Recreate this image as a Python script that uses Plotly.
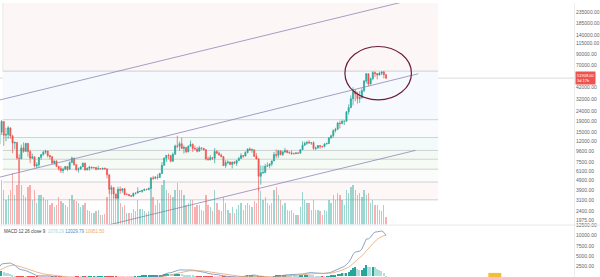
import math
import pandas as pd
import plotly.graph_objects as go

# ---------------- data (weekly BTC) ----------------
week_start = "2017-12-04"
warmup_closes = [998, 911, 821, 921, 920, 1024, 997, 1050, 1180, 1270, 1230, 970, 970,
                 1140, 1190, 1180, 1250, 1350, 1590, 1770, 2050, 2200, 2520, 2950, 2520,
                 2590, 2500, 2510, 1930, 2760, 2870, 3230, 4060, 4090, 4380, 4600, 4120,
                 3700, 3670, 4390, 4780, 5700, 6010, 6140, 7400, 5950, 8040, 9700, 11300]

closes = [15000, 19100, 13900, 14150, 16500, 13700, 11600, 11800, 8250, 8100, 10400, 9600,
          11500, 9550, 8200, 8450, 6850, 7050, 8350, 8900, 9400, 9650, 8700, 8500, 7350,
          7700, 6780, 6450, 6150, 6350, 6760, 6350, 7400, 8200, 7050, 6300, 6400, 6700,
          7300, 6250, 6500, 6700, 6600, 6600, 6350, 6450, 6400, 6500, 6400, 5600, 4000,
          4150, 3600, 3250, 4000, 3900, 4050, 3550, 3550, 3450, 3420, 3650, 3670, 3800,
          3800, 3900, 4000, 3980, 4100, 5200, 5150, 5300, 5250, 5750, 6950, 8200, 8750,
          8700, 7650, 8950, 10850, 10800, 11450, 10250, 10500, 9500, 10800, 11300, 10250,
          10150, 9600, 10400, 10300, 9950, 8050, 7900, 8300, 8200, 9550, 9200, 8800, 8500,
          6900, 7400, 7500, 7100, 7500, 7300, 7750, 8150, 8700, 8600, 9350, 10150, 9900,
          9950, 8550, 8050, 5400, 5850, 5900, 6800, 6900, 7150, 7700, 8900, 8750, 9700,
          8900, 9450, 9750, 9350, 9300, 9100, 9100, 9250, 9200, 9950, 11050, 11550, 11850,
          11650, 11700, 10250, 10350, 10950, 10750, 10700, 11400, 11500, 13050, 13750,
          15450, 15950, 18400, 18200, 19150, 19250, 23850, 26250, 32200, 38350, 35850,
          32300, 33100, 38900, 48600, 57450, 45250, 51200, 59000, 57650, 55800, 58000,
          59800, 56150, 51908]

highs = [17900, 19800, 19200, 16500, 17250, 16500, 14100, 12000, 11800, 9000, 11200, 11800,
         11700, 11700, 9950, 9100, 8500, 7450, 8400, 9000, 9750, 9950, 9700, 8850, 8500,
         7760, 7750, 6900, 6850, 6600, 6800, 6800, 7600, 8500, 8280, 7150, 6600, 6850,
         7400, 7400, 6600, 6800, 6720, 6700, 6700, 6900, 6500, 6500, 6600, 6500, 5600,
         4400, 4200, 3600, 4250, 4250, 4100, 4100, 3700, 3600, 3500, 3700, 3700, 4200,
         3900, 3950, 4050, 4050, 4150, 5300, 5450, 5400, 5650, 5850, 7500, 8350, 8800,
         9100, 8800, 9350, 11200, 13800, 12000, 13150, 11000, 10600, 11000, 12300, 11500,
         10950, 10600, 10900, 10400, 10300, 10050, 8500, 8800, 8400, 10350, 9900, 9550,
         9100, 8500, 7850, 7800, 7600, 7550, 7700, 7800, 8450, 9200, 8750, 9600, 10200,
         10500, 10250, 9950, 9200, 8200, 6950, 6900, 7200, 7450, 7300, 7750, 9450, 10000,
         9950, 9850, 9700, 10400, 9950, 9600, 9800, 9300, 9450, 9300, 10100, 12100, 12000,
         12100, 12450, 11750, 12100, 10700, 11100, 10980, 10900, 11500, 11750, 13350,
         14100, 15950, 16500, 18950, 19450, 19900, 19450, 24300, 28400, 34800, 41950,
         40100, 37850, 38550, 41000, 49700, 58350, 57550, 52600, 61000, 60600, 58400,
         60000, 60800, 61300, 57000]

lows = [11100, 14000, 10900, 12100, 12800, 12800, 9200, 10100, 7900, 6000, 8000, 9300,
        9500, 8500, 7300, 8100, 6600, 6500, 6600, 7850, 8700, 9050, 8350, 7950, 7100,
        7050, 6680, 6150, 5800, 5780, 6250, 6080, 6350, 7400, 6900, 6100, 5880, 6270,
        6680, 6150, 6200, 6150, 6400, 6450, 6200, 6350, 6350, 6250, 6350, 5150, 3600,
        3550, 3250, 3150, 3250, 3600, 3700, 3500, 3500, 3450, 3350, 3350, 3550, 3650,
        3750, 3700, 3850, 3900, 3900, 4100, 4950, 5050, 5000, 5200, 5700, 6900, 7500,
        8000, 7450, 7550, 8950, 10300, 9700, 10200, 9100, 9200, 9400, 10900, 9500, 9900,
        9350, 9600, 9900, 9800, 7800, 7800, 7800, 7850, 7300, 9000, 8700, 8350, 6900,
        6550, 7150, 7000, 6450, 7100, 6850, 7750, 8100, 8250, 8600, 9150, 9700, 9300,
        8450, 8000, 3850, 4450, 5700, 5850, 6750, 6500, 6800, 7650, 8150, 8250, 8750,
        8650, 9300, 9150, 9000, 8850, 8950, 9050, 9000, 9150, 9950, 10950, 11150, 11400,
        11150, 9900, 9850, 10250, 10150, 10450, 10550, 11200, 11400, 12900, 13200, 14850,
        15800, 16300, 18000, 17600, 19100, 22350, 26100, 27700, 30400, 28850, 29250,
        32250, 37400, 46000, 43000, 44900, 49300, 53200, 50400, 54900, 55400, 51500, 50800]

volumes = [40, 45, 35, 25, 30, 35, 52, 30, 40, 65, 40, 30, 28, 38, 40, 25, 35, 22, 30, 30,
           28, 25, 25, 20, 22, 18, 20, 28, 24, 22, 20, 18, 26, 30, 25, 24, 22, 18, 20, 22,
           15, 14, 12, 12, 14, 15, 10, 10, 11, 28, 42, 35, 28, 25, 30, 22, 18, 20, 12, 12,
           12, 16, 14, 25, 16, 16, 14, 12, 14, 38, 28, 20, 25, 22, 40, 45, 35, 32, 30, 28,
           35, 42, 35, 35, 30, 20, 22, 25, 25, 18, 20, 20, 15, 14, 30, 20, 18, 14, 35, 22,
           15, 14, 28, 22, 15, 12, 18, 12, 16, 20, 22, 15, 20, 22, 20, 18, 24, 22, 38, 34,
           25, 28, 22, 20, 22, 35, 38, 30, 25, 20, 22, 15, 14, 15, 12, 10, 10, 18, 33, 25,
           22, 22, 15, 25, 15, 15, 14, 10, 15, 14, 25, 22, 30, 25, 32, 30, 25, 20, 35, 32,
           38, 40, 35, 30, 32, 28, 35, 30, 32, 22, 25, 20, 20, 15, 14, 20, 8]

# fibonacci-style horizontal levels (top one is beyond the visible range)
fib_levels = [400000, 61000, 19900, 13200, 9800, 8000, 6360, 4730, 3140]
fib_start, fib_end = "2017-12-15", "2021-10-02"

# drawn channel (trend) lines: start / end date and price
channel_dates = [["2017-12-06", "2021-07-31"], ["2017-12-06", "2021-07-31"], ["2018-10-19", "2021-07-22"]]
channel_prices = [[31400, 327700], [5300, 57400], [1673, 9810]]

# highlighted ellipse
ellipse_dates = ["2020-12-09", "2021-07-09"]
ellipse_prices = [31400, 107500]

x_range = ["2017-12-06", "2022-12-09"]
price_ticks = [235000, 185000, 140000, 115000, 90000, 70000, 42000, 32000, 24000, 19000,
               15000, 12000, 9600, 7500, 6100, 4900, 3900, 3100, 2400, 1975]
macd_ticks = [0, 2500, 5000, 7500, 10000, 12500]
last_label = "51908.00<br>3d 17h"
macd_title = ("MACD 12 26 close 9 &nbsp;<span style='color:#a8d8d2'>1078.29</span>"
              " <span style='color:#4a8fc8'>12029.79</span>"
              " <span style='color:#eca862'>10951.50</span>")

# ---------------- derived ----------------
dates = pd.date_range(week_start, periods=len(closes), freq="7D")
opens = [warmup_closes[-1]] + closes[:-1]

s = pd.Series(warmup_closes + closes, dtype=float)
ema12 = s.ewm(span=12, adjust=False).mean()
ema26 = s.ewm(span=26, adjust=False).mean()
macd_all = ema12 - ema26
sig_all = macd_all.ewm(span=9, adjust=False).mean()
hist_all = macd_all - sig_all
n = len(closes)
macd = macd_all.iloc[-n:].tolist()
signal = sig_all.iloc[-n:].tolist()
hist = hist_all.iloc[-n:].tolist()
prev_hist = hist_all.iloc[-n - 1:-1].tolist()

hist_colors = []
for h, p in zip(hist, prev_hist):
    if h >= 0:
        hist_colors.append("#26a69a" if h > p else "#b2dfdb")
    else:
        hist_colors.append("#ffcdd2" if h > p else "#ef5350")

vol_colors = ["rgba(38,166,154,0.45)" if c >= o else "rgba(239,83,80,0.45)" for o, c in zip(opens, closes)]

UP, DN = "#26a69a", "#ef5350"
fig = go.Figure()

# volume (overlay axis)
fig.add_trace(go.Bar(x=dates, y=volumes, marker_color=vol_colors, marker_line_width=0,
                     width=4.2 * 86400000, xaxis="x", yaxis="y3", showlegend=False))

# channel lines
for d, p in zip(channel_dates, channel_prices):
    fig.add_trace(go.Scatter(x=d, y=p, mode="lines", line=dict(color="#8d88b6", width=0.8),
                             xaxis="x", yaxis="y", showlegend=False, hoverinfo="skip"))

# candles
fig.add_trace(go.Candlestick(x=dates, open=opens, high=highs, low=lows, close=closes,
                             increasing=dict(line=dict(color=UP, width=0.7), fillcolor=UP),
                             decreasing=dict(line=dict(color=DN, width=0.7), fillcolor=DN),
                             whiskerwidth=0, xaxis="x", yaxis="y", showlegend=False))

# MACD
fig.add_trace(go.Bar(x=dates, y=hist, marker_color=hist_colors, marker_line_width=0,
                     width=4.2 * 86400000, xaxis="x2", yaxis="y2", showlegend=False))
fig.add_trace(go.Scatter(x=dates, y=macd, mode="lines", line=dict(color="#6f8fb8", width=0.8),
                         xaxis="x2", yaxis="y2", showlegend=False))
fig.add_trace(go.Scatter(x=dates, y=signal, mode="lines", line=dict(color="#e0a878", width=0.8),
                         xaxis="x2", yaxis="y2", showlegend=False))

# ---------------- shapes ----------------
band_colors = ["#fdf6f6", "#f6f9fd", "#fafbfc", "#f3fafa", "#f3faf4", "#f6fbf6", "#fcfcfc", "#fdf7f7"]
shapes = []
for i in range(len(fib_levels) - 1):
    shapes.append(dict(type="rect", xref="x", yref="y", x0=fib_start, x1=fib_end,
                       y0=fib_levels[i + 1], y1=fib_levels[i], fillcolor=band_colors[i],
                       line_width=0, layer="below"))
for lv in fib_levels[1:]:
    shapes.append(dict(type="line", xref="x", yref="y", x0=fib_start, x1=fib_end, y0=lv, y1=lv,
                       line=dict(color="#c3c6cd", width=0.8), layer="below"))
shapes.append(dict(type="line", xref="x", yref="y", x0=fib_start, x1=fib_start,
                   y0=fib_levels[1], y1=fib_levels[0], line=dict(color="#dcdcdc", width=0.6), layer="below"))
# last price line
shapes.append(dict(type="line", xref="paper", yref="y", x0=0, x1=1, y0=closes[-1], y1=closes[-1],
                   line=dict(color="#d0d0d0", width=0.8), layer="below"))
# ellipse
shapes.append(dict(type="circle", xref="x", yref="y", x0=ellipse_dates[0], x1=ellipse_dates[1],
                   y0=ellipse_prices[0], y1=ellipse_prices[1],
                   line=dict(color="#6b1c3c", width=1.2)))
# pane separator
shapes.append(dict(type="line", xref="paper", yref="paper", x0=0, x1=1.05, y0=0.1895, y1=0.1895,
                   line=dict(color="#e6e8ee", width=1)))
# small logo blob at bottom
shapes.append(dict(type="rect", xref="paper", yref="paper", x0=490 / 576, x1=503 / 576,
                   y0=-0.01, y1=0.015, fillcolor="#f2c037", line_width=0))

annotations = [
    dict(xref="paper", yref="y", x=1.002, y=math.log10(closes[-1]),
         text=last_label, showarrow=False, xanchor="left", yanchor="middle",
         bgcolor="#ef5350", font=dict(family="Liberation Sans, Arial", size=4, color="white"),
         borderpad=1, align="left"),
    dict(xref="paper", yref="paper", x=0.004, y=0.182, text=macd_title, showarrow=False,
         xanchor="left", yanchor="top", font=dict(family="Liberation Sans, Arial", size=4.5, color="#444")),
]

fig.update_layout(
    width=600, height=277, margin=dict(l=0, r=24, t=0, b=0),
    paper_bgcolor="white", plot_bgcolor="white",
    shapes=shapes, annotations=annotations, bargap=0,
    xaxis=dict(domain=[0, 1], range=x_range, anchor="y", showticklabels=False, showgrid=False,
               zeroline=False, rangeslider=dict(visible=False), type="date"),
    yaxis=dict(domain=[0.1913, 1], type="log", range=[3.249, 5.467], side="right", anchor="x",
               tickvals=price_ticks, ticktext=[f"{v:.2f}" for v in price_ticks],
               tickfont=dict(family="Liberation Sans, Arial", size=5, color="#666"),
               showgrid=False, zeroline=False, ticks="", showline=True, linecolor="#ececec", linewidth=1),
    yaxis3=dict(overlaying="y", range=[0, 224], visible=False, anchor="x"),
    xaxis2=dict(domain=[0, 1], matches="x", anchor="y2", showticklabels=False, showgrid=False,
                zeroline=False, type="date"),
    yaxis2=dict(domain=[0, 0.1877], range=[-245, 12500], side="right", anchor="x2",
                tickvals=macd_ticks, ticktext=[f"{v:.2f}" for v in macd_ticks],
                tickfont=dict(family="Liberation Sans, Arial", size=5, color="#666"),
                showgrid=False, zeroline=False, ticks="", showline=True, linecolor="#ececec", linewidth=1),
)

fig.write_html("out.html")
